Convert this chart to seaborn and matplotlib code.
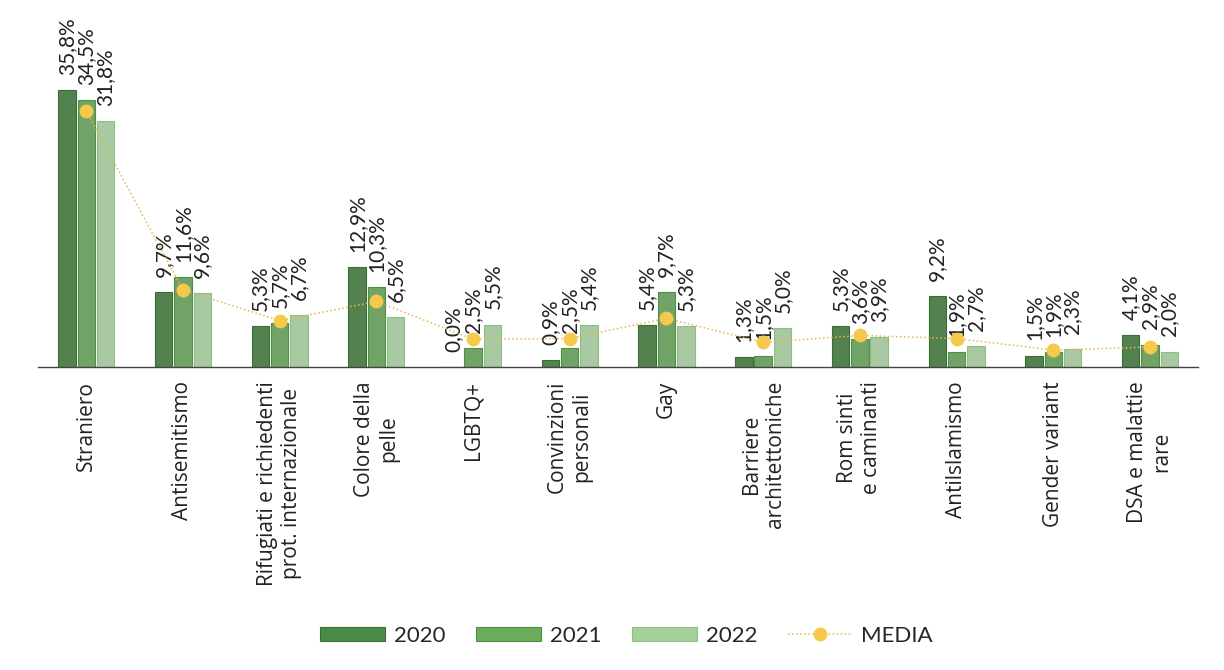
import matplotlib
matplotlib.use("Agg")
import matplotlib.pyplot as plt
import numpy as np
import pandas as pd
import seaborn as sns
from matplotlib.lines import Line2D
from matplotlib.patches import Patch

categories = [
    "Straniero",
    "Antisemitismo",
    "Rifugiati e richiedenti\nprot. internazionale",
    "Colore della\npelle",
    "LGBTQ+",
    "Convinzioni\npersonali",
    "Gay",
    "Barriere\narchitettoniche",
    "Rom sinti\ne caminanti",
    "Antilslamismo",
    "Gender variant",
    "DSA e malattie\nrare",
]
years = ["2020", "2021", "2022"]
v2020 = [35.8, 9.7, 5.3, 12.9, 0.0, 0.9, 5.4, 1.3, 5.3, 9.2, 1.5, 4.1]
v2021 = [34.5, 11.6, 5.7, 10.3, 2.5, 2.5, 9.7, 1.5, 3.6, 1.9, 1.9, 2.9]
v2022 = [31.8, 9.6, 6.7, 6.5, 5.5, 5.4, 5.3, 5.0, 3.9, 2.7, 2.3, 2.0]
media = [33.1, 10.0, 6.0, 8.5, 3.6, 3.7, 6.3, 3.2, 4.1, 3.7, 2.2, 2.6]

colors = ["#4c8a47", "#6aac5c", "#a4d09a"]
edges = ["#386e34", "#4f9142", "#8cbf81"]
C_DOT = "#f5c94c"
C_LINE = "#e6b94e"

df = pd.DataFrame({
    "categoria": categories * 3,
    "anno": sum([[y] * len(categories) for y in years], []),
    "valore": v2020 + v2021 + v2022,
})

sns.set_style("white")
plt.rcParams["font.family"] = ["Open Sans", "DejaVu Sans"]

fig = plt.figure(figsize=(12.24, 6.70), dpi=100)
ax = fig.add_axes([0.031, 0.452, 0.948, 0.485])

sns.barplot(
    data=df, x="categoria", y="valore", hue="anno",
    palette=colors, width=0.6, gap=0.1, ax=ax, legend=False,
)

for cont, ec, vals in zip(ax.containers, edges, [v2020, v2021, v2022]):
    for bar in cont:
        bar.set_edgecolor(ec)
        bar.set_linewidth(0.8)
    labels = [f"{v:.1f}%".replace(".", ",") for v in vals]
    ax.bar_label(cont, labels=labels, rotation=90, padding=11,
                 fontsize=15, family="Lato", color="#222222")

ax.plot(np.arange(len(categories)), media, linestyle=":", color=C_LINE,
        linewidth=1.1, zorder=4)
ax.plot(np.arange(len(categories)), media, linestyle="none", marker="o",
        markersize=10, color=C_DOT, markeredgewidth=0, zorder=5)

ax.set_xlim(-0.5, len(categories) - 0.5)
ax.set_ylim(0, 42)
ax.set_yticks([])
ax.set_xlabel("")
ax.set_ylabel("")
for s in ["top", "right", "left"]:
    ax.spines[s].set_visible(False)
ax.spines["bottom"].set_color("#444444")
ax.spines["bottom"].set_linewidth(1.0)

ax.set_xticks(np.arange(len(categories)))
ax.set_xticklabels(categories, rotation=90, ha="center", va="top",
                   multialignment="center", fontsize=15, color="#222222")
ax.tick_params(axis="x", which="major", length=0, pad=10)
ax.set_xticks(np.arange(-0.5, len(categories)), minor=True)
ax.tick_params(axis="x", which="minor", length=7, width=1.0, color="#444444",
               direction="out")

handles = [Patch(facecolor=c, edgecolor=e, linewidth=0.8) for c, e in zip(colors, edges)]
handles.append(Line2D([0], [0], linestyle=":", color=C_LINE, linewidth=1.1,
                      marker="o", markersize=10, markerfacecolor=C_DOT,
                      markeredgewidth=0))
fig.legend(handles, years + ["MEDIA"], loc="center", bbox_to_anchor=(0.512, 0.051),
           ncol=4, frameon=False, handlelength=2.9, handleheight=0.6,
           handletextpad=0.4, columnspacing=1.4,
           prop={"family": "Lato", "size": 16})

fig.savefig("out.png", dpi=100, facecolor="white")
